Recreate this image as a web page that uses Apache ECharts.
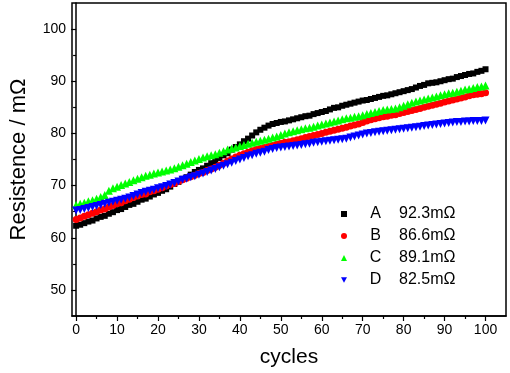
<!DOCTYPE html>
<html><head><meta charset="utf-8">
<script src="https://cdn.jsdelivr.net/npm/echarts@6/dist/echarts.min.js"></script>
<style>html,body{margin:0;padding:0;background:#fff}#c{width:510px;height:373px}</style>
</head><body><div id="c"></div>
<script>
const cycles = Array.from({length:101}, (_, i) => i);
const seriesNames = ['A','B','C','D'];
const legendValues = ['92.3mΩ','86.6mΩ','89.1mΩ','82.5mΩ'];
const xTicks = [0,10,20,30,40,50,60,70,80,90,100];
const xMinorTicks = [5,15,25,35,45,55,65,75,85,95];
const yTicks = [50,60,70,80,90,100];
const yMinorTicks = [55,65,75,85,95];

const A = [62.3,62.5,62.8,63.1,63.3,63.7,64.0,64.2,64.6,64.9,65.3,65.5,65.9,66.3,66.5,66.9,67.3,67.5,67.9,68.3,68.6,69.0,69.3,69.8,70.3,70.7,71.3,71.6,72.1,72.6,73.0,73.3,73.8,74.3,74.7,75.3,75.8,76.2,76.9,77.4,77.9,78.5,79.0,79.6,80.2,80.7,81.1,81.5,81.8,82.0,82.2,82.3,82.5,82.7,82.9,83.1,83.3,83.4,83.7,83.9,84.1,84.3,84.6,84.9,85.0,85.3,85.5,85.7,85.9,86.1,86.3,86.4,86.6,86.8,87.0,87.2,87.3,87.5,87.7,87.9,88.1,88.3,88.5,88.8,89.1,89.3,89.6,89.7,89.8,90.0,90.2,90.4,90.5,90.8,91.0,91.2,91.4,91.5,91.8,92.0,92.3];
const B = [63.5,63.8,64.1,64.4,64.7,65.0,65.3,65.5,65.9,66.2,66.5,66.7,67.1,67.4,67.7,68.0,68.3,68.4,68.8,69.0,69.3,69.6,69.9,70.2,70.4,70.8,71.1,71.4,71.7,72.0,72.3,72.5,72.9,73.2,73.5,73.9,74.3,74.7,75.1,75.5,75.8,76.1,76.4,76.7,76.9,77.1,77.3,77.5,77.7,77.9,78.1,78.3,78.4,78.6,78.8,79.0,79.2,79.4,79.6,79.8,80.0,80.2,80.4,80.6,80.8,81.0,81.2,81.4,81.6,81.8,82.1,82.4,82.6,82.8,83.0,83.2,83.3,83.5,83.6,83.8,84.0,84.2,84.4,84.6,84.8,85.0,85.2,85.4,85.6,85.8,86.0,86.2,86.4,86.6,86.8,87.0,87.2,87.4,87.5,87.6,87.8];
const C = [66.3,66.5,66.7,67.0,67.2,67.5,67.8,68.2,69.0,69.5,69.8,70.1,70.4,70.7,71.0,71.3,71.6,71.9,72.1,72.3,72.5,72.7,72.9,73.1,73.3,73.6,73.9,74.2,74.5,74.8,75.1,75.4,75.6,75.8,76.0,76.3,76.6,76.9,77.1,77.3,77.6,77.8,78.0,78.2,78.4,78.6,78.8,79.0,79.2,79.4,79.7,80.0,80.2,80.4,80.6,80.8,81.0,81.1,81.3,81.5,81.7,81.9,82.1,82.3,82.5,82.7,82.9,83.0,83.2,83.3,83.5,83.7,83.9,84.1,84.3,84.5,84.6,84.7,84.8,85.0,85.3,85.6,85.9,86.1,86.3,86.5,86.7,86.9,87.1,87.3,87.5,87.7,87.8,88.0,88.2,88.4,88.5,88.7,88.9,89.0,89.2];
const D = [65.2,65.3,65.5,65.7,65.9,66.1,66.3,66.5,66.7,66.9,67.1,67.3,67.5,67.7,68.0,68.3,68.6,68.8,69.0,69.2,69.5,69.7,69.9,70.2,70.5,70.8,71.1,71.3,71.6,71.8,72.1,72.3,72.6,72.9,73.2,73.5,73.8,74.1,74.4,74.7,75.0,75.3,75.6,75.8,76.1,76.3,76.5,76.8,77.0,77.2,77.3,77.4,77.5,77.6,77.7,77.8,77.9,78.0,78.2,78.3,78.4,78.5,78.6,78.7,78.8,78.9,79.0,79.2,79.4,79.6,79.8,80.0,80.1,80.2,80.3,80.4,80.5,80.6,80.7,80.8,80.9,81.0,81.1,81.2,81.3,81.4,81.5,81.6,81.7,81.8,81.9,82.0,82.1,82.2,82.2,82.3,82.3,82.4,82.4,82.4,82.5];

const values = [A,B,C,D];
const colors = ['#000000','#ff0000','#00ff00','#0000ff'];
const symbols = ['rect','circle','triangle','path://M0,0 L10,0 L5,9 Z'];
const sizes = [6,7,8,8];
const FONT = '"Liberation Sans", Arial, sans-serif';

const chart = echarts.init(document.getElementById('c'), null, {renderer:'canvas'});
const labelStyle = {color:'#000', fontFamily:FONT, fontSize:14};
const xBase = {type:'value', min:-1, max:105, splitLine:{show:false}};
const yBase = {type:'value', min:45, max:105, splitLine:{show:false}};
chart.setOption({
  animation:false,
  backgroundColor:'#fff',
  grid:{left:68, right:4, top:3, bottom:57, show:true, borderColor:'#000', borderWidth:1.5},
  xAxis:[
    Object.assign({}, xBase, {
      name:'cycles', nameLocation:'middle', nameGap:31,
      nameTextStyle:{color:'#000', fontFamily:FONT, fontSize:21},
      axisLine:{show:true, lineStyle:{color:'#000', width:1.5}},
      axisTick:{show:true, inside:false, length:5, customValues:xTicks, lineStyle:{color:'#000', width:1.2}},
      axisLabel:Object.assign({customValues:xTicks, margin:7}, labelStyle)
    }),
    Object.assign({}, xBase, {
      position:'bottom', gridIndex:0,
      axisLine:{show:false},
      axisTick:{show:true, length:3, customValues:xMinorTicks, lineStyle:{color:'#000', width:1.2}},
      axisLabel:{show:false}
    })
  ],
  yAxis:[
    Object.assign({}, yBase, {
      name:'Resistence / mΩ', nameLocation:'middle', nameGap:42,
      nameTextStyle:{color:'#000', fontFamily:FONT, fontSize:22},
      axisLine:{show:true, lineStyle:{color:'#000', width:1.5}},
      axisTick:{show:true, length:5, customValues:yTicks, lineStyle:{color:'#000', width:1.2}},
      axisLabel:Object.assign({customValues:yTicks, margin:6}, labelStyle)
    }),
    Object.assign({}, yBase, {
      position:'left',
      axisLine:{show:false},
      axisTick:{show:true, length:3, customValues:yMinorTicks, lineStyle:{color:'#000', width:1.2}},
      axisLabel:{show:false}
    })
  ],
  legend:{
    orient:'vertical', left:336, top:201, itemWidth:6, itemHeight:6, itemGap:6,
    data: seriesNames.map((n,i)=>({name:n, icon:symbols[i]})),
    formatter: name => `{a|${name}}{b|${legendValues[seriesNames.indexOf(name)]}}`,
    textStyle:{color:'#000', fontFamily:FONT, fontSize:16,
      rich:{a:{width:47, align:'center', fontSize:16, fontFamily:FONT, lineHeight:18},
            b:{fontSize:16, fontFamily:FONT, lineHeight:18}}}
  },
  series: seriesNames.map((n,i)=>({
    name:n, type:'scatter', xAxisIndex:0, yAxisIndex:0,
    symbol:symbols[i], symbolSize:sizes[i],
    itemStyle:{color:colors[i], opacity:1},
    data: cycles.map((c,j)=>[c, values[i][j]])
  }))
});
</script></body></html>
